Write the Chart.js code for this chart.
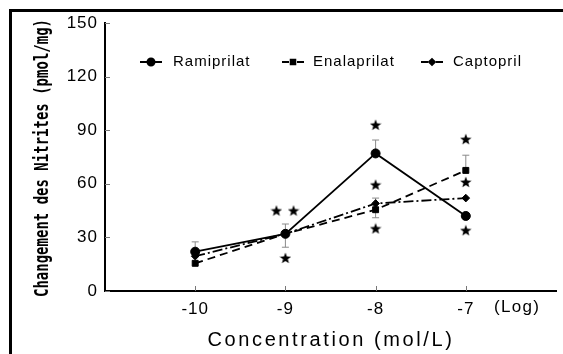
<!DOCTYPE html>
<html>
<head>
<meta charset="utf-8">
<script src="https://cdn.jsdelivr.net/npm/chart.js@4.4.1/dist/chart.umd.min.js"></script>
<style>
  html, body { margin: 0; padding: 0; background: #fff; }
  #wrap { position: relative; width: 563px; height: 354px; }
  #frame { position: absolute; left: 9px; top: 9px; right: 0; bottom: 0;
           border-left: 3px solid #000; border-top: 3px solid #000; pointer-events: none; }
  canvas { display: block; }
</style>
</head>
<body>
<div id="wrap">
  <canvas id="c" width="563" height="354"></canvas>
  <div id="frame"></div>
</div>
<script>
// Log concentration (mol/L)
const concentrations = [-10, -9, -8, -7];
const xTickValues = [-10, -9, -8, -7];
const yTickStep = 30;

// Change in nitrites (pmol/mg)
const ramiprilat = [22, 32, 77, 42];
const enalaprilat = [15.5, 32, 45.5, 67.5];
const captopril = [19.5, 32, 49, 52];

// SEM; sign gives the side the bar is drawn on (+ above, - below)
const ramiprilatErr = [5.5, 0, 7.5, 0];
const enalaprilatErr = [0, -7.5, -4.5, 8.5];
const captoprilErr = [0, 5.5, 3, 0];

// Significance stars
const starX = [-9.1, -8.91, -9, -8, -8, -8, -7, -7, -7];
const starY = [45, 45, 18.5, 93, 59.5, 35, 85, 61, 34];

const seriesNames = ['Ramiprilat', 'Enalaprilat', 'Captopril'];

function pts(ys) { return concentrations.map((x, i) => ({ x: x, y: ys[i] })); }

// five-pointed star marker
function makeStar(size) {
  const cv = document.createElement('canvas');
  cv.width = size; cv.height = size;
  const g = cv.getContext('2d');
  const cx = size / 2, cy = size / 2 + 0.5, R = size / 2, r = R * 0.42;
  g.beginPath();
  for (let i = 0; i < 10; i++) {
    const rad = i % 2 === 0 ? R : r;
    const a = -Math.PI / 2 + i * Math.PI / 5;
    const px = cx + rad * Math.cos(a), py = cy + rad * Math.sin(a);
    if (i === 0) g.moveTo(px, py); else g.lineTo(px, py);
  }
  g.closePath();
  g.fillStyle = '#000';
  g.fill();
  return cv;
}
const starImg = makeStar(12);

const errPlugin = {
  id: 'errbars',
  beforeDatasetsDraw(chart) {
    const ctx = chart.ctx;
    const xs = chart.scales.x, ys = chart.scales.y;
    ctx.save();
    ctx.strokeStyle = '#8a8a8a';
    ctx.lineWidth = 1;
    chart.data.datasets.forEach(ds => {
      if (!ds.err) return;
      ds.data.forEach((p, i) => {
        const e = ds.err[i];
        if (!e) return;
        const px = xs.getPixelForValue(p.x);
        const y0 = ys.getPixelForValue(p.y);
        const y1 = ys.getPixelForValue(p.y + e);
        ctx.beginPath();
        ctx.moveTo(px, y0); ctx.lineTo(px, y1);
        ctx.moveTo(px - 3.5, y1); ctx.lineTo(px + 3.5, y1);
        ctx.stroke();
      });
    });
    ctx.restore();
  }
};

const decorPlugin = {
  id: 'decor',
  beforeDraw(chart) {
    chart.ctx.letterSpacing = '1px';
  },
  afterDraw(chart) {
    const ctx = chart.ctx;
    const xs = chart.scales.x, ys = chart.scales.y;
    const area = chart.chartArea;
    ctx.save();
    // inward tick marks
    ctx.strokeStyle = '#777';
    ctx.lineWidth = 1;
    ctx.beginPath();
    ys.ticks.forEach(t => {
      const py = Math.round(ys.getPixelForValue(t.value)) + 0.5;
      ctx.moveTo(area.left, py); ctx.lineTo(area.left + 5, py);
    });
    xs.ticks.forEach(t => {
      const px = Math.round(xs.getPixelForValue(t.value)) + 0.5;
      ctx.moveTo(px, area.bottom); ctx.lineTo(px, area.bottom - 5);
    });
    ctx.stroke();

    ctx.fillStyle = '#000';
    // unit note after the last tick
    ctx.font = '17px "Liberation Sans", Arial, sans-serif';
    ctx.letterSpacing = '1.3px';
    ctx.textAlign = 'left';
    ctx.textBaseline = 'middle';
    ctx.fillText('(Log)', 494, 307);

    // x axis title
    ctx.font = '20px "Liberation Sans", Arial, sans-serif';
    ctx.letterSpacing = '2.6px';
    ctx.textAlign = 'center';
    ctx.fillText('Concentration (mol/L)', 331, 340);

    // y axis title, condensed to its column
    ctx.letterSpacing = '0px';
    ctx.font = 'bold 19px "DejaVu Sans Mono", monospace';
    const yTitle = 'Changement des Nitrites (pmol/mg)';
    const w = ctx.measureText(yTitle).width;
    ctx.save();
    ctx.translate(43, 158);
    ctx.rotate(-Math.PI / 2);
    ctx.scale(278 / w, 1);
    ctx.fillText(yTitle, 0, 0);
    ctx.restore();

    // legend
    ctx.font = '15px "Liberation Sans", Arial, sans-serif';
    ctx.letterSpacing = '1px';
    ctx.textAlign = 'left';
    const legX = [151, 293, 432];
    const legTextX = [173, 313, 453];
    const legY = 62;
    chart.data.datasets.slice(0, 3).forEach((ds, i) => {
      ctx.save();
      ctx.strokeStyle = '#000';
      ctx.lineWidth = 1.8;
      ctx.setLineDash([]);
      ctx.beginPath();
      ctx.moveTo(legX[i] - 11, legY); ctx.lineTo(legX[i] - 4, legY);
      ctx.moveTo(legX[i] + 4, legY); ctx.lineTo(legX[i] + 11, legY);
      ctx.stroke();
      Chart.helpers.drawPoint(ctx, {
        pointStyle: ds.pointStyle, radius: ds.pointRadius * 0.8,
        borderWidth: 1, rotation: 0
      }, legX[i], legY);
      ctx.fillStyle = '#000';
      ctx.fill();
      ctx.restore();
      ctx.fillText(seriesNames[i], legTextX[i], legY);
    });
    ctx.restore();
  }
};

const lineBase = {
  borderColor: '#000', backgroundColor: '#000', pointBorderColor: '#000',
  pointBackgroundColor: '#000', borderWidth: 1.8, tension: 0, fill: false,
  showLine: true, pointBorderWidth: 1
};

new Chart(document.getElementById('c'), {
  type: 'scatter',
  data: {
    datasets: [
      Object.assign({}, lineBase, {
        label: seriesNames[0], data: pts(ramiprilat), err: ramiprilatErr,
        pointStyle: 'circle', pointRadius: 4.5
      }),
      Object.assign({}, lineBase, {
        label: seriesNames[1], data: pts(enalaprilat), err: enalaprilatErr,
        pointStyle: 'rect', pointRadius: 4.2, borderDash: [8, 5]
      }),
      Object.assign({}, lineBase, {
        label: seriesNames[2], data: pts(captopril), err: captoprilErr,
        pointStyle: 'rectRot', pointRadius: 3.8, borderDash: [10, 3, 2, 3]
      }),
      {
        label: 'p', data: starX.map((x, i) => ({ x: x, y: starY[i] })),
        pointStyle: starImg, pointRadius: 6, showLine: false
      }
    ]
  },
  options: {
    responsive: false,
    animation: false,
    events: [],
    layout: { padding: { top: 23, right: 4, bottom: 0, left: 0 } },
    plugins: { legend: { display: false }, tooltip: { enabled: false } },
    scales: {
      x: {
        type: 'linear', min: -11, max: -6,
        afterBuildTicks(s) { s.ticks = xTickValues.map(v => ({ value: v })); },
        afterFit(s) { s.height = 63; },
        grid: { display: true, drawOnChartArea: false, drawTicks: false },
        border: { display: true, color: '#000', width: 2 },
        ticks: {
          color: '#000', padding: 8,
          font: { family: '"Liberation Sans", Arial, sans-serif', size: 17 },
          callback: v => String(v), maxRotation: 0, autoSkip: false
        }
      },
      y: {
        min: 0, max: 150,
        afterFit(s) { s.width = 105; },
        grid: { display: true, drawOnChartArea: false, drawTicks: false },
        border: { display: true, color: '#000', width: 2 },
        ticks: {
          stepSize: yTickStep, color: '#000', padding: 7,
          font: { family: '"Liberation Sans", Arial, sans-serif', size: 17 }
        }
      }
    }
  },
  plugins: [errPlugin, decorPlugin]
});
</script>
</body>
</html>
